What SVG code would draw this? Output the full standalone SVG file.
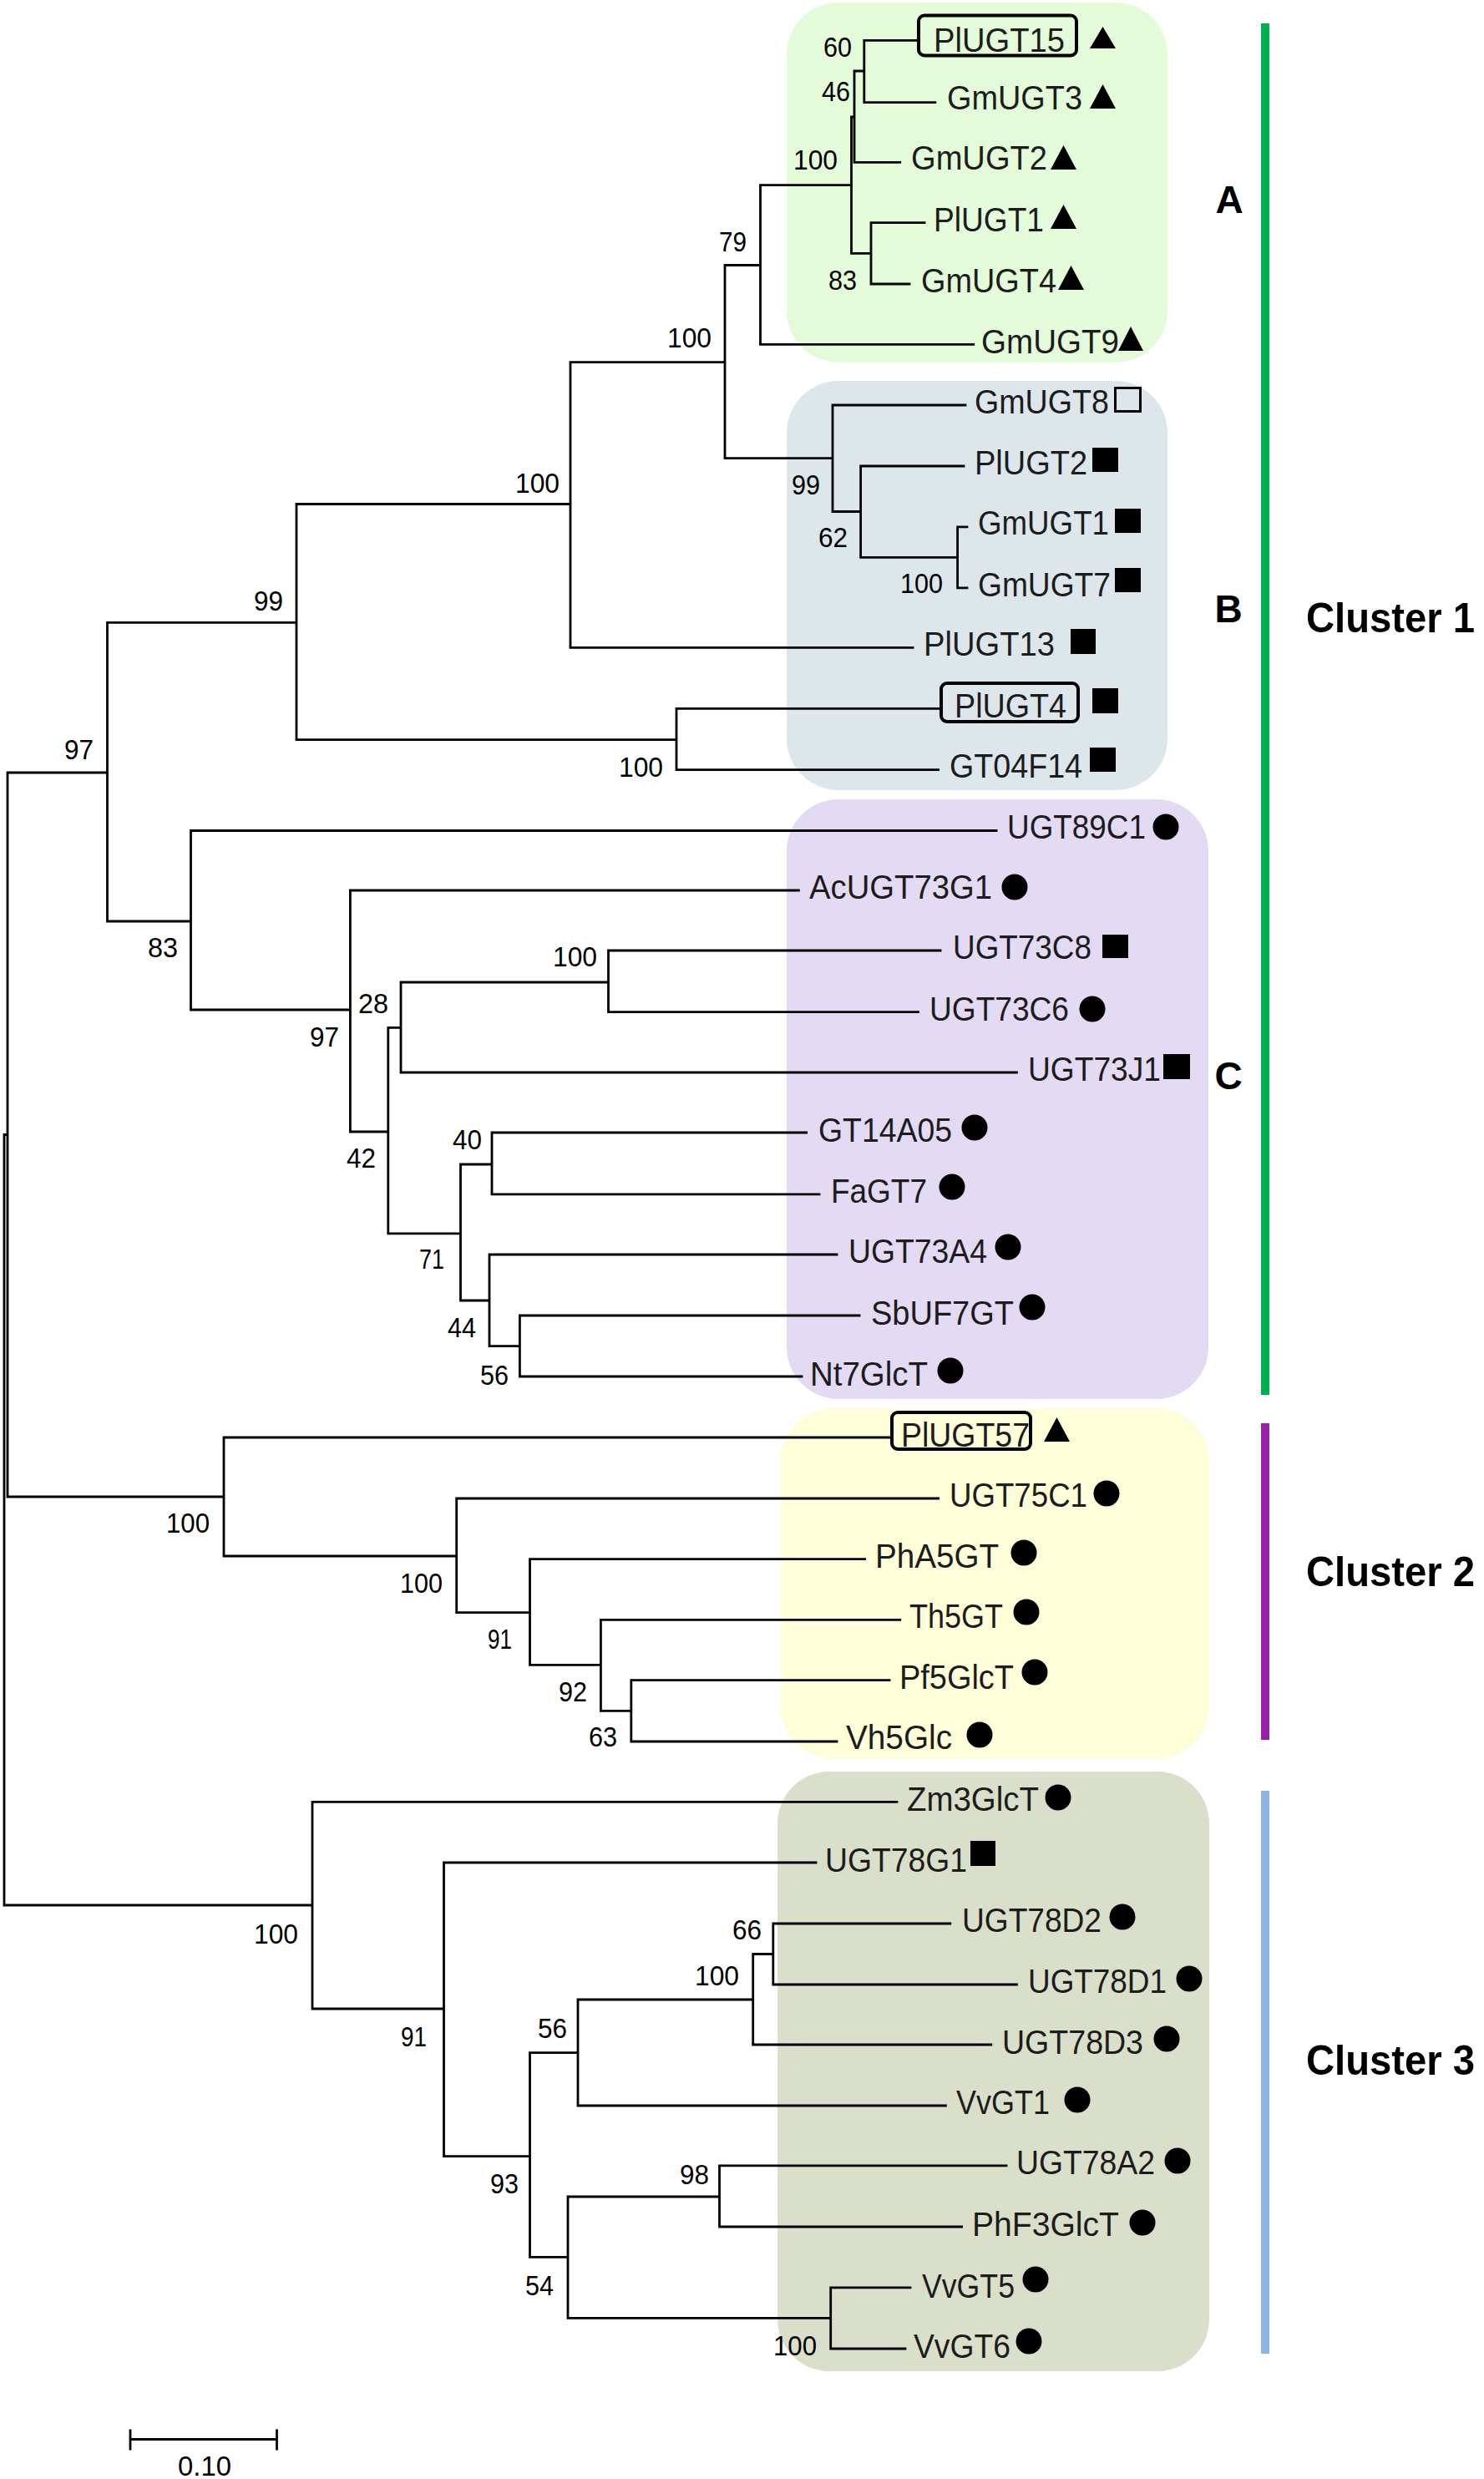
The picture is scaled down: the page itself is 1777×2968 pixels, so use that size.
<svg xmlns="http://www.w3.org/2000/svg" width="1777" height="2968" viewBox="0 0 1777 2968">
<style>
.leaf{font-family:"Liberation Sans",Arial,sans-serif;font-size:40px;fill:#1c1c1c}
.bs{font-family:"Liberation Sans",Arial,sans-serif;font-size:33px;fill:#000}
.grp{font-family:"Liberation Sans",Arial,sans-serif;font-size:46px;font-weight:bold;fill:#000}
.cl{font-family:"Liberation Sans",Arial,sans-serif;font-size:50px;font-weight:bold;fill:#000}
.tree{fill:none;stroke:#000;stroke-width:2.8;stroke-linecap:square}
.hl{fill:none;stroke:#000;stroke-width:4}
.sym{fill:#000}
</style>
<rect width="1777" height="2968" fill="#fff"/>
<g id="backgrounds">
<rect x="942" y="3" width="456" height="431" rx="62" fill="#e3fbd9"/>
<rect x="942" y="456" width="456" height="490" rx="62" fill="#dce6eb"/>
<rect x="942" y="957" width="505" height="718" rx="62" fill="#e3daf4"/>
<rect x="935" y="1687" width="513" height="418" rx="62" fill="#fefed9"/>
<rect x="931" y="2121" width="517" height="718" rx="62" fill="#dadfca"/>
</g>
<g id="cluster-bars">
<rect x="1510" y="28" width="10" height="1642" fill="#00b050"/>
<rect x="1510" y="1704" width="10" height="379" fill="#9a22a8"/>
<rect x="1510" y="2144" width="10" height="674" fill="#8db3e2"/>
</g>
<g id="connectors">
<path class="tree" d="
M5,1358.5V2281 M9,925V1792 M128.5,745.3V1103 M355,603.5V885.6 M683,433.6V775.4 M868,317.5V548.7 M910.5,221.7V412.3
M1019.5,140V303.3 M1023,85V194.3 M1034.8,48.3V122.7 M1043,266.7V340 M997,485V612.5 M1030.6,558V667.3 M1146.6,630.8V703.8
M810,848.4V921.7 M228.5,994.5V1209 M419.4,1066V1355 M464.8,1230.4V1476.8 M480,1176V1284 M728.5,1138V1211.7 M551.5,1394V1557
M589,1356V1429.8 M586,1502V1611.6 M622.4,1575V1648 M268,1721V1863 M546.7,1794V1930.7 M634.5,1866.7V1993.3 M719.4,1939.3V2048.3
M755.8,2011.7V2085 M374,2157.4V2405 M531.5,2230V2581.7 M634.5,2457.7V2702.4 M692,2394V2521 M901.7,2339.5V2448 M925.8,2303V2376
M680,2630V2775.4 M861.5,2592.8V2666 M994.7,2738.8V2812
M5,1358.5H9 M5,2281H374 M9,925H128.5 M9,1792H268 M128.5,745.3H355 M128.5,1103H228.5
M355,603.5H683 M355,885.6H810 M683,433.6H868 M683,775.4H1093 M868,317.5H910.5 M868,548.7H997
M910.5,221.7H1019.5 M910.5,412.3H1165.7 M1019.5,140H1023 M1019.5,303.3H1043 M1023,85H1034.8 M1023,194.3H1077.7
M1034.8,48.3H1097 M1034.8,122.7H1119.8 M1043,266.7H1107 M1043,340H1089
M997,485H1156 M997,612.5H1030.6 M1030.6,558H1154 M1030.6,667.3H1146.6 M1146.6,630.8H1158 M1146.6,703.8H1158
M810,848.4H1125 M810,921.7H1123.6
M228.5,994.5H1193 M228.5,1209H419.4 M419.4,1066H956.4 M419.4,1355H464.8 M464.8,1230.4H480 M464.8,1476.8H551.5
M480,1176H728.5 M480,1284H1217.4 M728.5,1138H1126 M728.5,1211.7H1099.5 M551.5,1394H589 M551.5,1557H586
M589,1356H965.6 M589,1429.8H981 M586,1502H1002 M586,1611.6H622.4 M622.4,1575H1029 M622.4,1648H960
M268,1721H1066 M268,1863H546.7 M546.7,1794H1123.6 M546.7,1930.7H634.5 M634.5,1866.7H1035.6 M634.5,1993.3H719.4
M719.4,1939.3H1077.7 M719.4,2048.3H755.8 M755.8,2011.7H1065 M755.8,2085H1002
M374,2157.4H1074 M374,2405H531.5 M531.5,2230H977 M531.5,2581.7H634.5 M634.5,2457.7H692 M634.5,2702.4H680
M692,2394H901.7 M692,2521H1132.4 M901.7,2339.5H925.8 M901.7,2448H1186.8 M925.8,2303H1137.8 M925.8,2376H1217.4
M680,2630H861.5 M680,2775.4H994.7 M861.5,2592.8H1205 M861.5,2666H1151.6 M994.7,2738.8H1090 M994.7,2812H1084"/>
</g>
<g id="leaves">
<g id="leaf-PlUGT15"><rect class="hl" x="1100" y="18.5" width="189" height="48" rx="7"/><text class="leaf" x="1118" y="62" textLength="157" lengthAdjust="spacingAndGlyphs">PlUGT15</text><polygon class="sym" points="1305,58 1336,58 1320.5,32"/></g>
<g id="leaf-GmUGT3"><text class="leaf" x="1134" y="131" textLength="162" lengthAdjust="spacingAndGlyphs">GmUGT3</text><polygon class="sym" points="1305,130 1336,130 1320.5,101"/></g>
<g id="leaf-GmUGT2"><text class="leaf" x="1091" y="203" textLength="163" lengthAdjust="spacingAndGlyphs">GmUGT2</text><polygon class="sym" points="1258,203 1289,203 1273.5,174"/></g>
<g id="leaf-PlUGT1"><text class="leaf" x="1118" y="277" textLength="132" lengthAdjust="spacingAndGlyphs">PlUGT1</text><polygon class="sym" points="1258,274 1289,274 1273.5,245"/></g>
<g id="leaf-GmUGT4"><text class="leaf" x="1103" y="350" textLength="162" lengthAdjust="spacingAndGlyphs">GmUGT4</text><polygon class="sym" points="1267,347 1298,347 1282.5,318"/></g>
<g id="leaf-GmUGT9"><text class="leaf" x="1175" y="423" textLength="165" lengthAdjust="spacingAndGlyphs">GmUGT9</text><polygon class="sym" points="1339,420 1369,420 1354,391"/></g>
<g id="leaf-GmUGT8"><text class="leaf" x="1167" y="495" textLength="161" lengthAdjust="spacingAndGlyphs">GmUGT8</text><rect x="1335.5" y="464.5" width="30" height="28" fill="none" stroke="#000" stroke-width="3"/></g>
<g id="leaf-PlUGT2"><text class="leaf" x="1167" y="568" textLength="135" lengthAdjust="spacingAndGlyphs">PlUGT2</text><rect class="sym" x="1308" y="536" width="31" height="29"/></g>
<g id="leaf-GmUGT1"><text class="leaf" x="1171" y="640" textLength="157" lengthAdjust="spacingAndGlyphs">GmUGT1</text><rect class="sym" x="1335" y="609" width="31" height="29"/></g>
<g id="leaf-GmUGT7"><text class="leaf" x="1171" y="714" textLength="159" lengthAdjust="spacingAndGlyphs">GmUGT7</text><rect class="sym" x="1335" y="680" width="31" height="29"/></g>
<g id="leaf-PlUGT13"><text class="leaf" x="1106" y="785" textLength="157" lengthAdjust="spacingAndGlyphs">PlUGT13</text><rect class="sym" x="1282" y="753" width="30" height="30"/></g>
<g id="leaf-PlUGT4"><rect class="hl" x="1127" y="818" width="164" height="46" rx="7"/><text class="leaf" x="1143" y="859" textLength="134" lengthAdjust="spacingAndGlyphs">PlUGT4</text><rect class="sym" x="1308" y="824" width="31" height="30"/></g>
<g id="leaf-GT04F14"><text class="leaf" x="1137" y="931" textLength="159" lengthAdjust="spacingAndGlyphs">GT04F14</text><rect class="sym" x="1305" y="895" width="31" height="29"/></g>
<g id="leaf-UGT89C1"><text class="leaf" x="1206" y="1004" textLength="166" lengthAdjust="spacingAndGlyphs">UGT89C1</text><circle class="sym" cx="1396" cy="990" r="15.5"/></g>
<g id="leaf-AcUGT73G1"><text class="leaf" x="969" y="1076" textLength="219" lengthAdjust="spacingAndGlyphs">AcUGT73G1</text><circle class="sym" cx="1215" cy="1062" r="15.5"/></g>
<g id="leaf-UGT73C8"><text class="leaf" x="1141" y="1148" textLength="166" lengthAdjust="spacingAndGlyphs">UGT73C8</text><rect class="sym" x="1320" y="1119" width="31" height="28"/></g>
<g id="leaf-UGT73C6"><text class="leaf" x="1113" y="1222" textLength="167" lengthAdjust="spacingAndGlyphs">UGT73C6</text><circle class="sym" cx="1308" cy="1208" r="15.5"/></g>
<g id="leaf-UGT73J1"><text class="leaf" x="1231" y="1294" textLength="159" lengthAdjust="spacingAndGlyphs">UGT73J1</text><rect class="sym" x="1393" y="1262" width="32" height="30"/></g>
<g id="leaf-GT14A05"><text class="leaf" x="980" y="1367" textLength="160" lengthAdjust="spacingAndGlyphs">GT14A05</text><circle class="sym" cx="1167" cy="1350" r="15.5"/></g>
<g id="leaf-FaGT7"><text class="leaf" x="995" y="1440" textLength="115" lengthAdjust="spacingAndGlyphs">FaGT7</text><circle class="sym" cx="1140" cy="1421" r="15.5"/></g>
<g id="leaf-UGT73A4"><text class="leaf" x="1016" y="1512" textLength="166" lengthAdjust="spacingAndGlyphs">UGT73A4</text><circle class="sym" cx="1207" cy="1493" r="15.5"/></g>
<g id="leaf-SbUF7GT"><text class="leaf" x="1043" y="1586" textLength="171" lengthAdjust="spacingAndGlyphs">SbUF7GT</text><circle class="sym" cx="1236" cy="1565" r="15.5"/></g>
<g id="leaf-Nt7GlcT"><text class="leaf" x="970" y="1659" textLength="141" lengthAdjust="spacingAndGlyphs">Nt7GlcT</text><circle class="sym" cx="1138" cy="1641" r="15.5"/></g>
<g id="leaf-PlUGT57"><rect class="hl" x="1068" y="1691" width="166" height="44" rx="7"/><text class="leaf" x="1079" y="1732" textLength="154" lengthAdjust="spacingAndGlyphs">PlUGT57</text><polygon class="sym" points="1250,1726 1281,1726 1265.5,1697"/></g>
<g id="leaf-UGT75C1"><text class="leaf" x="1137" y="1804" textLength="165" lengthAdjust="spacingAndGlyphs">UGT75C1</text><circle class="sym" cx="1325" cy="1788" r="15.5"/></g>
<g id="leaf-PhA5GT"><text class="leaf" x="1048" y="1877" textLength="148" lengthAdjust="spacingAndGlyphs">PhA5GT</text><circle class="sym" cx="1226" cy="1859" r="15.5"/></g>
<g id="leaf-Th5GT"><text class="leaf" x="1089" y="1949" textLength="112" lengthAdjust="spacingAndGlyphs">Th5GT</text><circle class="sym" cx="1229" cy="1930" r="15.5"/></g>
<g id="leaf-Pf5GlcT"><text class="leaf" x="1077" y="2022" textLength="137" lengthAdjust="spacingAndGlyphs">Pf5GlcT</text><circle class="sym" cx="1239" cy="2002" r="15.5"/></g>
<g id="leaf-Vh5Glc"><text class="leaf" x="1013" y="2094" textLength="127" lengthAdjust="spacingAndGlyphs">Vh5Glc</text><circle class="sym" cx="1173" cy="2077" r="15.5"/></g>
<g id="leaf-Zm3GlcT"><text class="leaf" x="1086" y="2168" textLength="158" lengthAdjust="spacingAndGlyphs">Zm3GlcT</text><circle class="sym" cx="1267" cy="2152" r="15.5"/></g>
<g id="leaf-UGT78G1"><text class="leaf" x="988" y="2241" textLength="170" lengthAdjust="spacingAndGlyphs">UGT78G1</text><rect class="sym" x="1162" y="2204" width="30" height="30"/></g>
<g id="leaf-UGT78D2"><text class="leaf" x="1152" y="2313" textLength="167" lengthAdjust="spacingAndGlyphs">UGT78D2</text><circle class="sym" cx="1344" cy="2295" r="15.5"/></g>
<g id="leaf-UGT78D1"><text class="leaf" x="1231" y="2386" textLength="166" lengthAdjust="spacingAndGlyphs">UGT78D1</text><circle class="sym" cx="1424" cy="2369" r="15.5"/></g>
<g id="leaf-UGT78D3"><text class="leaf" x="1200" y="2459" textLength="169" lengthAdjust="spacingAndGlyphs">UGT78D3</text><circle class="sym" cx="1397" cy="2441" r="15.5"/></g>
<g id="leaf-VvGT1"><text class="leaf" x="1145" y="2531" textLength="112" lengthAdjust="spacingAndGlyphs">VvGT1</text><circle class="sym" cx="1290" cy="2514" r="15.5"/></g>
<g id="leaf-UGT78A2"><text class="leaf" x="1217" y="2603" textLength="166" lengthAdjust="spacingAndGlyphs">UGT78A2</text><circle class="sym" cx="1410" cy="2587" r="15.5"/></g>
<g id="leaf-PhF3GlcT"><text class="leaf" x="1164" y="2677" textLength="176" lengthAdjust="spacingAndGlyphs">PhF3GlcT</text><circle class="sym" cx="1368" cy="2661" r="15.5"/></g>
<g id="leaf-VvGT5"><text class="leaf" x="1104" y="2751" textLength="111" lengthAdjust="spacingAndGlyphs">VvGT5</text><circle class="sym" cx="1240" cy="2729" r="15.5"/></g>
<g id="leaf-VvGT6"><text class="leaf" x="1094" y="2823" textLength="116" lengthAdjust="spacingAndGlyphs">VvGT6</text><circle class="sym" cx="1232" cy="2803" r="15.5"/></g>
</g>
<g id="bootstrap">
<text class="bs" x="986" y="68" textLength="34" lengthAdjust="spacingAndGlyphs">60</text>
<text class="bs" x="984" y="121" textLength="34" lengthAdjust="spacingAndGlyphs">46</text>
<text class="bs" x="950" y="203" textLength="53" lengthAdjust="spacingAndGlyphs">100</text>
<text class="bs" x="992" y="347" textLength="34" lengthAdjust="spacingAndGlyphs">83</text>
<text class="bs" x="861" y="301" textLength="33" lengthAdjust="spacingAndGlyphs">79</text>
<text class="bs" x="799" y="416" textLength="53" lengthAdjust="spacingAndGlyphs">100</text>
<text class="bs" x="617" y="590" textLength="53" lengthAdjust="spacingAndGlyphs">100</text>
<text class="bs" x="304" y="731" textLength="35" lengthAdjust="spacingAndGlyphs">99</text>
<text class="bs" x="948" y="592" textLength="34" lengthAdjust="spacingAndGlyphs">99</text>
<text class="bs" x="980" y="655" textLength="35" lengthAdjust="spacingAndGlyphs">62</text>
<text class="bs" x="1078" y="710" textLength="51" lengthAdjust="spacingAndGlyphs">100</text>
<text class="bs" x="741" y="930" textLength="53" lengthAdjust="spacingAndGlyphs">100</text>
<text class="bs" x="77" y="909" textLength="35" lengthAdjust="spacingAndGlyphs">97</text>
<text class="bs" x="177" y="1146" textLength="36" lengthAdjust="spacingAndGlyphs">83</text>
<text class="bs" x="371" y="1253" textLength="35" lengthAdjust="spacingAndGlyphs">97</text>
<text class="bs" x="429" y="1213" textLength="36" lengthAdjust="spacingAndGlyphs">28</text>
<text class="bs" x="662" y="1157" textLength="53" lengthAdjust="spacingAndGlyphs">100</text>
<text class="bs" x="415" y="1398" textLength="35" lengthAdjust="spacingAndGlyphs">42</text>
<text class="bs" x="542" y="1376" textLength="35" lengthAdjust="spacingAndGlyphs">40</text>
<text class="bs" x="502" y="1519" textLength="30" lengthAdjust="spacingAndGlyphs">71</text>
<text class="bs" x="536" y="1601" textLength="34" lengthAdjust="spacingAndGlyphs">44</text>
<text class="bs" x="575" y="1658" textLength="34" lengthAdjust="spacingAndGlyphs">56</text>
<text class="bs" x="199" y="1835" textLength="52" lengthAdjust="spacingAndGlyphs">100</text>
<text class="bs" x="479" y="1907" textLength="51" lengthAdjust="spacingAndGlyphs">100</text>
<text class="bs" x="584" y="1974" textLength="29" lengthAdjust="spacingAndGlyphs">91</text>
<text class="bs" x="669" y="2037" textLength="34" lengthAdjust="spacingAndGlyphs">92</text>
<text class="bs" x="705" y="2091" textLength="34" lengthAdjust="spacingAndGlyphs">63</text>
<text class="bs" x="304" y="2327" textLength="53" lengthAdjust="spacingAndGlyphs">100</text>
<text class="bs" x="480" y="2450" textLength="31" lengthAdjust="spacingAndGlyphs">91</text>
<text class="bs" x="587" y="2626" textLength="34" lengthAdjust="spacingAndGlyphs">93</text>
<text class="bs" x="644" y="2440" textLength="35" lengthAdjust="spacingAndGlyphs">56</text>
<text class="bs" x="832" y="2377" textLength="53" lengthAdjust="spacingAndGlyphs">100</text>
<text class="bs" x="877" y="2322" textLength="35" lengthAdjust="spacingAndGlyphs">66</text>
<text class="bs" x="629" y="2748" textLength="34" lengthAdjust="spacingAndGlyphs">54</text>
<text class="bs" x="814" y="2615" textLength="35" lengthAdjust="spacingAndGlyphs">98</text>
<text class="bs" x="926" y="2820" textLength="52" lengthAdjust="spacingAndGlyphs">100</text>
</g>
<g id="group-labels">
<text class="grp" x="1472" y="255" text-anchor="middle">A</text>
<text class="grp" x="1471" y="745" text-anchor="middle">B</text>
<text class="grp" x="1471" y="1304" text-anchor="middle">C</text>
<text class="cl" x="1564" y="757" textLength="202" lengthAdjust="spacingAndGlyphs">Cluster 1</text>
<text class="cl" x="1564" y="1899" textLength="202" lengthAdjust="spacingAndGlyphs">Cluster 2</text>
<text class="cl" x="1564" y="2484" textLength="202" lengthAdjust="spacingAndGlyphs">Cluster 3</text>
</g>
<g id="scale-bar">
<path class="tree" d="M156,2920.5H331.5 M156,2910V2932 M331.5,2910V2932"/>
<text class="bs" x="213" y="2964" textLength="64" lengthAdjust="spacingAndGlyphs">0.10</text>
</g>
</svg>
